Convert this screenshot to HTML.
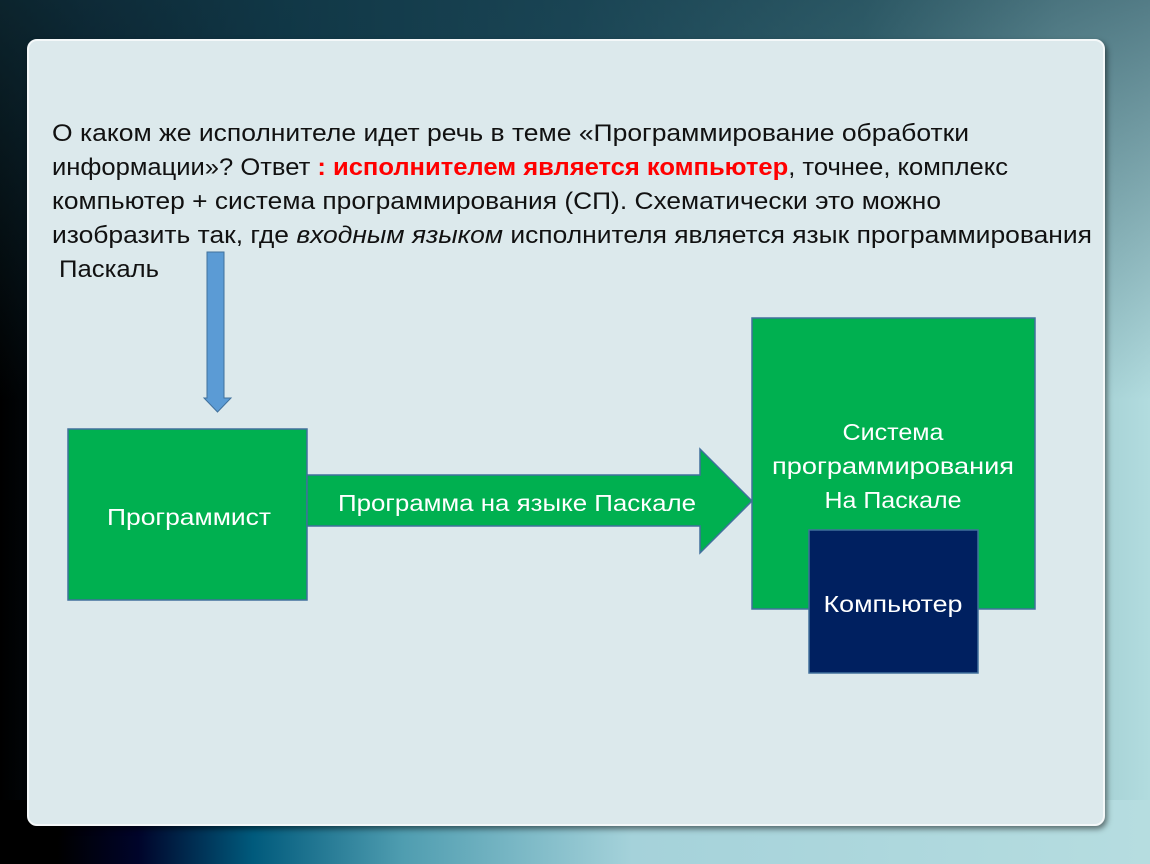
<!DOCTYPE html><html><head><meta charset="utf-8"><style>
body{margin:0;width:1150px;height:864px;overflow:hidden;position:relative;font-family:"Liberation Sans",sans-serif;
background:linear-gradient(90deg,#000 0%,#04101a 8%,#0c3140 25%,#225060 50%,#4d7f88 75%,#9cc8cc 92%,#b2dcdf 100%);}
.bot{position:absolute;left:0;top:800px;width:1150px;height:64px;background:linear-gradient(90deg,#000 5%,#00042a 12%,#005a7c 22%,#4f9db0 35%,#a5d2da 55%,#b6dde0 100%);}
.top{position:absolute;left:0;top:0;width:1150px;height:400px;background:linear-gradient(180deg,rgba(20,60,75,.6),rgba(20,60,75,0));}
.panel{position:absolute;left:27px;top:39px;width:1074px;height:783px;background:#dce9ec;border:2px solid #f4f8f9;border-radius:10px;box-shadow:2px 3px 6px rgba(0,0,0,.5);}
</style></head><body>
<div class="top"></div><div class="bot"></div><div class="panel"></div>
<svg width="1150" height="864" style="position:absolute;left:0;top:0" font-family="Liberation Sans, sans-serif">
<g font-size="24" fill="#111">
<text x="52" y="141" textLength="917" lengthAdjust="spacingAndGlyphs">О каком же исполнителе идет речь в теме «Программирование обработки</text>
<text x="52" y="175" textLength="956" lengthAdjust="spacingAndGlyphs">информации»? Ответ <tspan fill="#ff0000" font-weight="bold">: исполнителем является компьютер</tspan>, точнее, комплекс</text>
<text x="52" y="209" textLength="889" lengthAdjust="spacingAndGlyphs">компьютер + система программирования (СП). Схематически это можно</text>
<text x="52" y="243" textLength="1040" lengthAdjust="spacingAndGlyphs">изобразить так, где <tspan font-style="italic">входным языком</tspan> исполнителя является язык программирования</text>
<text x="59" y="277" textLength="100" lengthAdjust="spacingAndGlyphs">Паскаль</text>
</g>
<polygon points="207,252 224,252 224,398 231,398 217.5,412 204,398 207,398" fill="#5b9bd5" stroke="#41719c" stroke-width="1"/>
<rect x="68" y="429" width="239" height="171" fill="#00b050" stroke="#41719c" stroke-width="1.5"/>
<polygon points="307,475 700,475 700,449 752,501 700,553 700,526 307,526" fill="#00b050" stroke="#41719c" stroke-width="1.5"/>
<rect x="752" y="318" width="283" height="291" fill="#00b050" stroke="#41719c" stroke-width="1.5"/>
<rect x="809" y="530" width="169" height="143" fill="#002060" stroke="#41719c" stroke-width="1.5"/>
<g fill="#fff" font-size="23" text-anchor="middle">
<text x="189" y="525" textLength="164" lengthAdjust="spacingAndGlyphs">Программист</text>
<text x="517" y="511" textLength="358" lengthAdjust="spacingAndGlyphs">Программа на языке Паскале</text>
<text x="893" y="440" textLength="101" lengthAdjust="spacingAndGlyphs">Система</text>
<text x="893" y="474" textLength="242" lengthAdjust="spacingAndGlyphs">программирования</text>
<text x="893" y="508" textLength="137" lengthAdjust="spacingAndGlyphs">На Паскале</text>
<text x="893" y="612" textLength="139" lengthAdjust="spacingAndGlyphs">Компьютер</text>
</g>
</svg>
</body></html>
